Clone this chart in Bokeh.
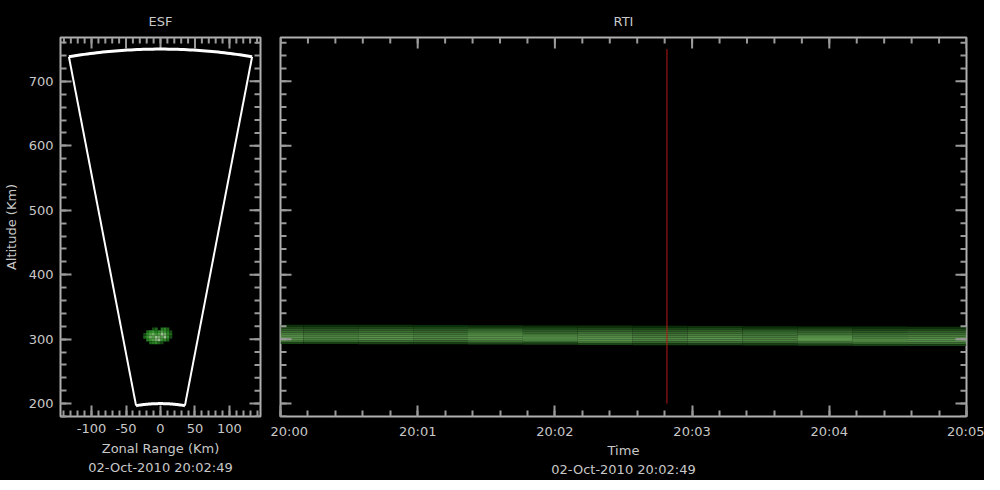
import numpy as np
from bokeh.plotting import figure
from bokeh.layouts import row
from bokeh.models import LinearAxis, FixedTicker, Range1d, ColumnDataSource
from bokeh.embed import file_html
from bokeh.resources import INLINE

# ---------------- data ----------------
esf_title = "ESF"
rti_title = "RTI"
timestamp = "02-Oct-2010 20:02:49"
esf_xlabel = "Zonal Range (Km)"
rti_xlabel = "Time"
ylabel = "Altitude (Km)"

zonal_range = (-145, 145)
alt_range = (180, 768)
alt_ticks = [200, 300, 400, 500, 600, 700]
alt_minor = list(range(180, 780, 20))
zonal_ticks = [-100, -50, 0, 50, 100]
zonal_labels = ["-100", "-50", "0", "50", "100"]
zonal_minor = list(range(-140, 150, 10))

fan_half_angle_deg = 10.2
fan_ranges_km = [200, 750]

# ESF echo blob (intensity 0-9), rows from top (high altitude) to bottom
blob_x_left = -25.0
blob_alt_top = 318.0
blob_cell_w = 4.2
blob_cell_h = 4.3
blob_matrix = [
    [0, 0, 0, 2, 3, 0, 4, 5, 3, 0],
    [0, 3, 5, 6, 4, 5, 7, 6, 4, 2],
    [2, 5, 7, 8, 6, 7, 9, 8, 5, 3],
    [3, 6, 8, 7, 9, 8, 7, 9, 6, 2],
    [0, 4, 6, 7, 8, 9, 6, 5, 3, 0],
    [0, 0, 3, 4, 5, 3, 2, 0, 0, 0],
]
blob_palette = [None, "#0c300c", "#154a14", "#1d661a", "#247a20", "#2c8a27",
                "#36952f", "#4f9e45", "#72ad66", "#9cbf92"]

# RTI
time_ticks = [0, 60, 120, 180, 240, 300]
time_labels = ["20:00", "20:01", "20:02", "20:03", "20:04", "20:05"]
time_minor = list(range(0, 301, 12))
time_range = (0, 300)
block_starts = [0, 10, 34, 58, 82, 106, 130, 154, 178, 202, 226, 250, 274]
block_centers = [307.5, 307.5, 307.2, 306.9, 306.6, 306.3, 306.0, 305.7, 305.4, 305.1, 304.8, 304.5, 304.2]
block_gain = [1.0, 0.88, 1.0, 0.9, 1.0, 0.88, 1.0, 0.9, 1.0, 0.88, 1.0, 0.9, 1.0]
band_profile = [0.12, 0.3, 0.48, 0.6, 0.72, 0.82, 0.9, 0.85, 0.6, 0.25]
band_row_km = 3.0
marker_time = 169  # 20:02:49
marker_alt = (200, 750)

# ---------------- styling helpers ----------------
TXT = "#c8c8c8"
AX = "#b0b0b0"
TK = "#9a9a9a"
FONT = "DejaVu Sans"
MAJ, MIN = 11, 6


def style_axis(ax):
    ax.axis_line_color = None
    ax.major_tick_line_color = TK
    ax.major_tick_line_width = 2
    ax.minor_tick_line_color = TK
    ax.minor_tick_line_width = 2
    ax.major_tick_in = MAJ
    ax.major_tick_out = 0
    ax.minor_tick_in = MIN
    ax.minor_tick_out = 0
    ax.major_label_text_color = TXT
    ax.major_label_text_font = FONT
    ax.major_label_text_font_size = "13px"
    ax.major_label_standoff = 7
    ax.axis_label_text_color = TXT
    ax.axis_label_text_font = FONT
    ax.axis_label_text_font_size = "13px"
    ax.axis_label_text_font_style = "normal"
    ax.axis_label_text_line_height = 1.3


def base_fig(title, xr, fw, bl, br):
    p = figure(x_range=Range1d(*xr), y_range=Range1d(*alt_range),
               frame_width=fw, frame_height=379,
               min_border_left=bl, min_border_right=br,
               min_border_top=37, min_border_bottom=58,
               output_backend="svg", toolbar_location=None,
               background_fill_color="black", border_fill_color="black",
               outline_line_color=AX, outline_line_width=2,
               x_axis_location=None, y_axis_location=None)
    p.grid.visible = False
    p.title.text = title
    p.title.align = "center"
    p.title.text_color = TXT
    p.title.text_font = FONT
    p.title.text_font_size = "13px"
    p.title.text_font_style = "normal"
    p.title.text_line_height = 0.6
    p.title.standoff = 18
    return p


def edge_ticks(p, xr, xmaj, xmin, left_side):
    """inward tick marks on the unlabeled sides (top, right, and optionally left)"""
    y_top = alt_range[1]
    for pos, ln in ((xmin, MIN), (xmaj, MAJ)):
        p.ray(x=pos, y=[y_top] * len(pos), length=ln, length_units="screen",
              angle=-np.pi / 2, line_color=TK, line_width=2)
    sides = [(xr[1], np.pi)]
    if left_side:
        sides.append((xr[0], 0.0))
    for xe, ang in sides:
        for pos, ln in ((alt_minor, MIN), (alt_ticks, MAJ)):
            p.ray(x=[xe] * len(pos), y=pos, length=ln, length_units="screen",
                  angle=ang, line_color=TK, line_width=2)


# ---------------- ESF panel ----------------
p1 = base_fig(esf_title, zonal_range, 200, 60, 10)
xb = LinearAxis(ticker=FixedTicker(ticks=zonal_ticks, minor_ticks=zonal_minor))
style_axis(xb)
xb.major_label_overrides = {t: l for t, l in zip(zonal_ticks, zonal_labels)}
xb.axis_label = esf_xlabel + "\n" + timestamp
xb.axis_label_standoff = 5
p1.add_layout(xb, "below")
yl = LinearAxis(ticker=FixedTicker(ticks=alt_ticks, minor_ticks=alt_minor))
style_axis(yl)
yl.axis_label = ylabel
yl.axis_label_standoff = 7
p1.add_layout(yl, "left")
edge_ticks(p1, zonal_range, zonal_ticks, zonal_minor, False)

# echo blob
bx, by, bc = [], [], []
for r, rowvals in enumerate(blob_matrix):
    for c, v in enumerate(rowvals):
        if v > 0:
            bx.append(blob_x_left + (c + 0.5) * blob_cell_w)
            by.append(blob_alt_top - (r + 0.5) * blob_cell_h)
            bc.append(blob_palette[v])
p1.rect(x="x", y="y", width=blob_cell_w, height=blob_cell_h,
        source=ColumnDataSource(dict(x=bx, y=by, c=bc)),
        fill_color="c", line_color=None)

# fan outline
a = np.radians(fan_half_angle_deg)
r0, r1 = fan_ranges_km
for s in (-1, 1):
    p1.line([s * r0 * np.sin(a), s * r1 * np.sin(a)],
            [r0 * np.cos(a), r1 * np.cos(a)], line_color="white", line_width=2)
th = np.linspace(-a, a, 60)
for rr in (r0, r1):
    p1.line(rr * np.sin(th), rr * np.cos(th), line_color="white", line_width=3)

# ---------------- RTI panel ----------------
p2 = base_fig(rti_title, time_range, 686, 10, 18)
tb = LinearAxis(ticker=FixedTicker(ticks=time_ticks, minor_ticks=time_minor))
style_axis(tb)
tb.major_label_overrides = {t: l for t, l in zip(time_ticks, time_labels)}
tb.axis_label = rti_xlabel + "\n" + timestamp
tb.axis_label_standoff = 1
p2.add_layout(tb, "below")

L, R, B, T, C = [], [], [], [], []
ends = block_starts[1:] + [time_range[1]]
half = band_row_km * len(band_profile) / 2
for b, (t0, t1) in enumerate(zip(block_starts, ends)):
    top = block_centers[b] + half
    for i, v in enumerate(band_profile):
        g = v * block_gain[b]
        L.append(t0)
        R.append(t1)
        T.append(top - i * band_row_km)
        B.append(top - (i + 1) * band_row_km)
        C.append("#%02x%02x%02x" % (int(100 * g), int(35 + 125 * g), int(85 * g)))
p2.quad(left="l", right="r", bottom="b", top="t", fill_color="c", line_color=None,
        source=ColumnDataSource(dict(l=L, r=R, b=B, t=T, c=C)))

p2.segment(x0=[marker_time], y0=[marker_alt[0]], x1=[marker_time], y1=[marker_alt[1]],
           line_color="#b81818", line_width=1)

edge_ticks(p2, time_range, time_ticks, time_minor, True)

layout = row(p1, p2)
layout.background = "black"
open("out.html", "w").write(file_html(layout, INLINE))
